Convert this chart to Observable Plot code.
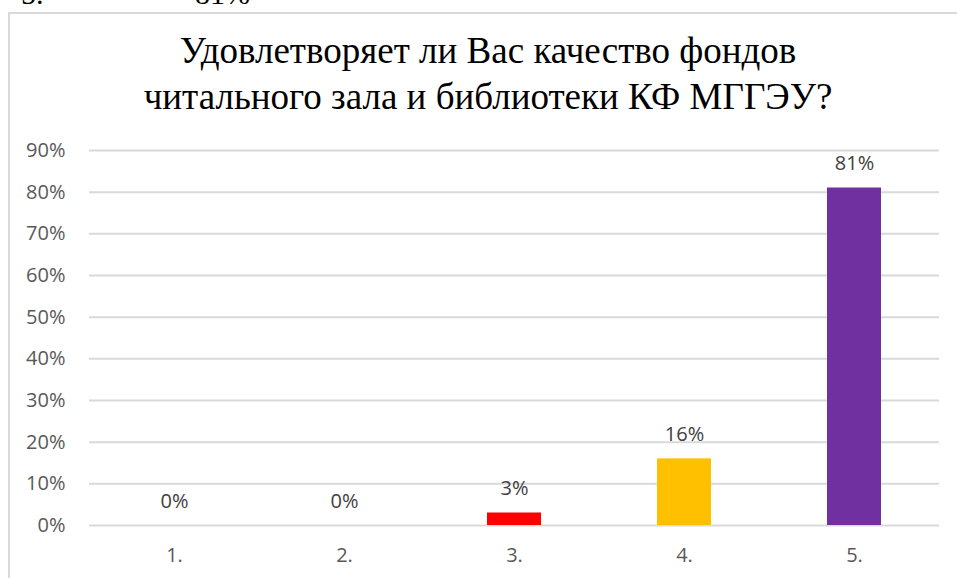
<!DOCTYPE html>
<html>
<head>
<meta charset="utf-8">
<script src="https://cdn.jsdelivr.net/npm/d3@7"></script>
<script src="https://cdn.jsdelivr.net/npm/@observablehq/plot@0.6"></script>
<style>
  html, body { margin: 0; padding: 0; background: #fff; overflow: hidden; }
  #wrap { position: relative; width: 957px; height: 578px; overflow: hidden; }
  #frame { position: absolute; left: 8px; top: 12px; width: 1000px; height: 700px; border: 2px solid #d9d9d9; box-sizing: border-box; }
  .top { position: absolute; top: -23px; font-family: "Liberation Serif", serif; font-size: 30px; color: #000; white-space: pre; }
  #title { position: absolute; left: 8px; width: 960px; top: 28px; text-align: center; font-family: "Liberation Serif", serif; font-size: 37px; line-height: 46px; color: #000; }
  #chart { position: absolute; left: 0; top: 0; }
</style>
</head>
<body>
<div id="wrap">
  <div id="frame"></div>
  <div class="top" style="left:21px">5.</div>
  <div class="top" style="left:195px">81%</div>
  <div id="title">Удовлетворяет ли Вас качество фондов<br>читального зала и библиотеки КФ МГГЭУ?</div>
  <div id="chart"></div>
</div>
<script>
const categories = ["1.", "2.", "3.", "4.", "5."];
const values = [0, 0, 0.03, 0.16, 0.81];
const barColors = ["#4472C4", "#ED7D31", "#FF0000", "#FFC000", "#7030A0"];
const yTicks = [0, 0.1, 0.2, 0.3, 0.4, 0.5, 0.6, 0.7, 0.8, 0.9];

const data = categories.map((c, i) => ({cat: c, value: values[i], color: barColors[i]}));
const fmt = d3.format(".0%");

const chart = Plot.plot({
  width: 957,
  height: 578,
  marginTop: 150,
  marginBottom: 53,
  marginLeft: 89,
  marginRight: 18,
  style: {fontFamily: "'Open Sans', sans-serif", fontSize: "20px", color: "#595959", background: "transparent"},
  x: {domain: categories, paddingInner: 0.68, paddingOuter: 0.34, label: null, tickSize: 0, tickPadding: 22},
  y: {domain: [0, 0.9], ticks: yTicks, tickFormat: fmt, label: null, tickSize: 0, tickPadding: 24},
  marks: [
    Plot.ruleY(yTicks, {stroke: "#d9d9d9", strokeWidth: 2}),
    Plot.barY(data, {x: "cat", y: "value", fill: d => d.color}),
    Plot.text(data, {x: "cat", y: "value", text: d => fmt(d.value), dy: -24, fill: "#404040", fontSize: 20})
  ]
});
document.getElementById("chart").appendChild(chart);
</script>
</body>
</html>
